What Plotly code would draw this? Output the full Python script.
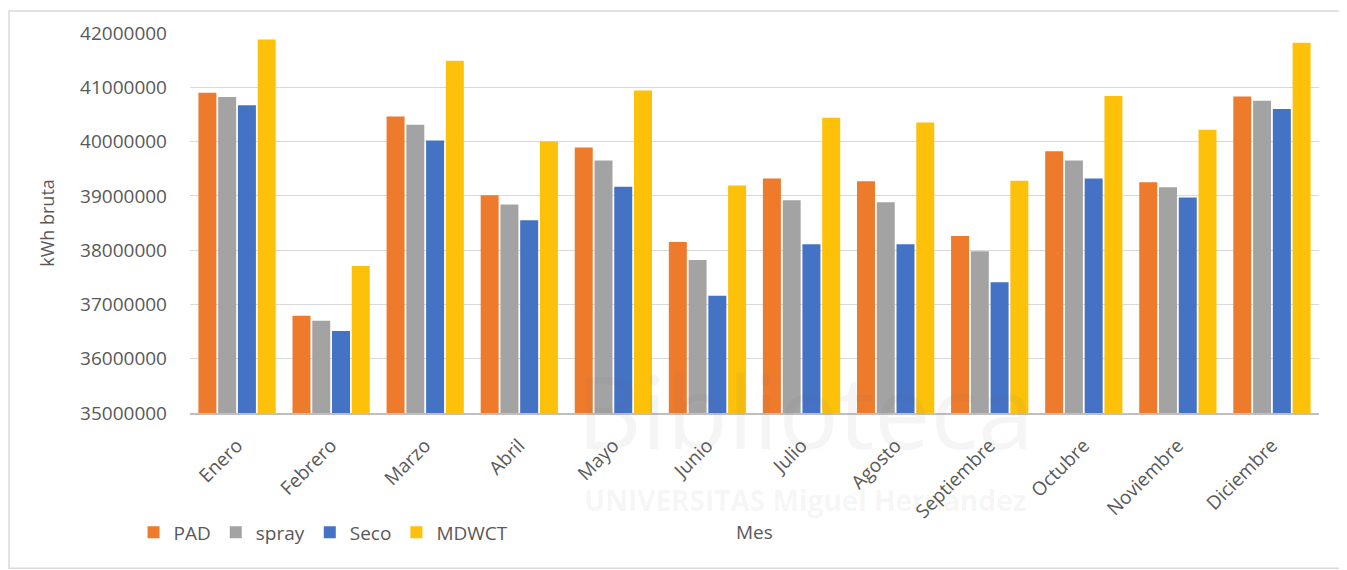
import plotly.graph_objects as go

meses = ["Enero", "Febrero", "Marzo", "Abril", "Mayo", "Junio", "Julio",
         "Agosto", "Septiembre", "Octubre", "Noviembre", "Diciembre"]

pad = [40900000, 36790000, 40460000, 39010000, 39890000, 38150000,
       39320000, 39270000, 38260000, 39820000, 39250000, 40830000]
spray = [40820000, 36700000, 40310000, 38840000, 39650000, 37820000,
         38920000, 38880000, 37980000, 39650000, 39160000, 40750000]
seco = [40670000, 36510000, 40020000, 38550000, 39170000, 37160000,
        38110000, 38110000, 37410000, 39320000, 38970000, 40600000]
mdwct = [41880000, 37710000, 41490000, 40000000, 40940000, 39190000,
         40440000, 40350000, 39280000, 40840000, 40220000, 41820000]

series = [
    ("PAD", pad, "#EE7A2C"),
    ("spray", spray, "#A3A3A3"),
    ("Seco", seco, "#4472C4"),
    ("MDWCT", mdwct, "#FDC10A"),
]

TEXT = "#595959"
FONT = "Open Sans"

fig = go.Figure()
for name, vals, color in series:
    fig.add_trace(go.Bar(x=meses, y=vals, name=name, marker_color=color,
                         marker_line_width=0))

# page body adds 8px; plot area on screen x 190..1319, y 31..413
fig.update_layout(
    width=1339, height=562,
    margin=dict(l=182, r=28, t=23, b=157),
    paper_bgcolor="white", plot_bgcolor="white",
    barmode="group", bargap=0.16, bargroupgap=0.09,
    font=dict(family=FONT, color=TEXT, size=19),
    showlegend=True,
    legend=dict(orientation="h", x=-0.05, xanchor="left", y=-0.314, yanchor="middle",
                font=dict(size=19, color=TEXT), itemwidth=30, traceorder="normal",
                bgcolor="rgba(0,0,0,0)"),
)

fig.update_yaxes(
    range=[35000000, 42000000], dtick=1000000, tickformat="d",
    showgrid=True, gridcolor="#D9D9D9", gridwidth=1.3, zeroline=False,
    ticklabelstandoff=22, tickfont=dict(size=19, color=TEXT),
    title=dict(text="kWh bruta", font=dict(size=18, color=TEXT), standoff=20),
)
fig.update_xaxes(
    showgrid=False, showline=True, linecolor="#BFBFBF", linewidth=2,
    tickangle=-45, ticklabelstandoff=12, tickfont=dict(size=19, color=TEXT),
)

fig.add_annotation(text="Mes", xref="paper", yref="paper", x=0.5, y=-0.314,
                   yanchor="middle", showarrow=False, font=dict(size=19, color=TEXT))

# faint library watermark
fig.add_annotation(text="Biblioteca", xref="paper", yref="paper", x=0.545, y=0.008,
                   showarrow=False, yanchor="middle",
                   font=dict(size=100, color="rgba(120,120,120,0.07)"))
fig.add_annotation(text="<b>UNIVERSITAS Miguel Hernández</b>", xref="paper", yref="paper",
                   x=0.545, y=-0.228, showarrow=False, yanchor="middle",
                   font=dict(size=28, color="rgba(120,120,120,0.07)"))

# chart frame
fig.add_shape(type="rect", xref="paper", yref="paper",
              x0=-181 / 1129, x1=1 + 27 / 1129, y0=-156 / 382, y1=1 + 22 / 382,
              line=dict(color="#D9D9D9", width=1.5), layer="below")

fig.write_html("out.html")
